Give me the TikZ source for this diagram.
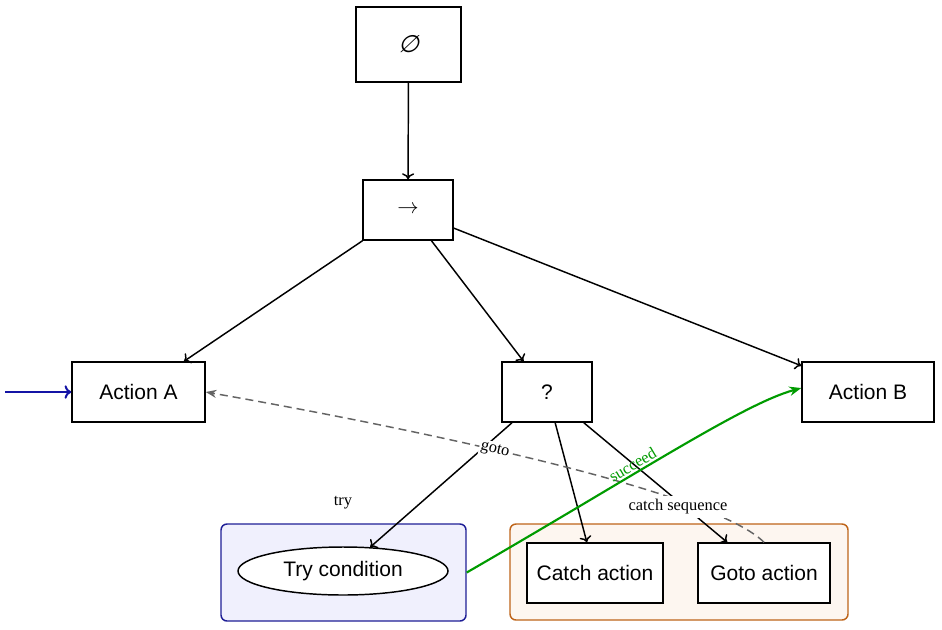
\documentclass[tikz,border=0pt]{standalone}
\usepackage{fontspec}
\setmainfont{Liberation Serif}
\newfontfamily\nodefont{Liberation Sans}
\newfontfamily\symslant[FakeSlant=0.25]{DejaVu Sans}
\usetikzlibrary{shapes.geometric,arrows.meta}
\definecolor{edgegray}{RGB}{100,100,100}
\definecolor{succgreen}{RGB}{0,155,0}
\definecolor{inblue}{RGB}{20,20,165}
\definecolor{trydraw}{RGB}{30,30,150}
\definecolor{tryfill}{RGB}{240,240,253}
\definecolor{catchdraw}{RGB}{190,100,25}
\definecolor{catchfill}{RGB}{253,246,240}
\begin{document}
\begin{tikzpicture}[x=0.75pt,y=-0.75pt,
  box/.style={draw, line width=1.1pt, rectangle, inner sep=0pt, fill=white,
    font=\nodefont\fontsize{15.75}{19}\selectfont},
  ellbox/.style={box, ellipse},
  group/.style={draw, line width=1.1pt, rounded corners=4.5pt, inner sep=0pt},
  lbl/.style={font=\fontsize{12.3}{15}\selectfont, inner sep=2pt},
  edge/.style={line width=1.1pt, -{To[length=4.5pt,width=9pt]}},
]
\useasboundingbox (0,0) rectangle (942,629);

% groups
\node[group, draw=trydraw, fill=tryfill, minimum width=183.75pt, minimum height=72.75pt] (trygrp) at (343.5,572.5) {};
\node[group, draw=catchdraw, fill=catchfill, minimum width=253.5pt, minimum height=72pt] (catchgrp) at (679,572) {};

% nodes
\node[box, minimum width=78.75pt, minimum height=56.25pt] (top) at (408.5,44.5) {{\symslant\fontsize{18}{20}\selectfont ∅}};
\node[box, minimum width=67.5pt, minimum height=45pt] (seq) at (408,210) {\scalebox{1.6}{\fontsize{10}{12}\selectfont$\rightarrow$}};
\node[box, minimum width=99.75pt, minimum height=45pt] (A) at (138.5,392) {Action A};
\node[box, minimum width=67.5pt, minimum height=45pt] (sel) at (547,392) {?};
\node[box, minimum width=99pt, minimum height=45pt] (B) at (868,392) {Action B};
\node[ellbox, minimum width=157.5pt, minimum height=36pt] (try) at (343,571) {Try condition};
\node[box, minimum width=102pt, minimum height=45pt] (catch) at (595,573) {Catch action};
\node[box, minimum width=99pt, minimum height=45pt] (goto) at (764,573) {Goto action};

\coordinate (start) at (5,392);

% edges
\draw[edge] (top) -- (seq);
\draw[edge] (seq) -- (A);
\draw[edge] (seq) -- (sel);
\draw[edge] (seq) -- (B);
\draw[edge] (sel) -- (try);
\draw[edge] (sel) -- (catch);
\draw[edge] (sel) -- (goto);
\draw[line width=1.5pt, inblue, -{To[length=5pt,width=10pt]}] (start) -- (A.west);

\draw[edgegray, line width=1.1pt, dash pattern=on 6pt off 3.75pt, -{Stealth[length=8pt,width=6pt]}]
  (goto.north) .. controls ([shift={(-57,-57)}]goto.north) and ([shift={(148,26)}]A.east) ..
  node[pos=0.535, sloped, fill=white, lbl, inner sep=1pt, text=black] {goto} (A.east);

\draw[succgreen, line width=1.6pt, -{Stealth[length=9pt,width=7pt]}]
  (trygrp.east) .. controls ([shift={(173,-100)}]trygrp.east) and ([shift={(-58,12)}]B.west) ..
  node[pos=0.385, sloped, above, lbl, inner sep=1.5pt] {succeed} ([yshift=3pt]B.west);

% group labels
\node[lbl] (trylbl) at (343,503) {try};
\node[lbl, fill=white, inner sep=3pt] (catchlbl) at (678,507) {catch sequence};
\end{tikzpicture}
\end{document}
